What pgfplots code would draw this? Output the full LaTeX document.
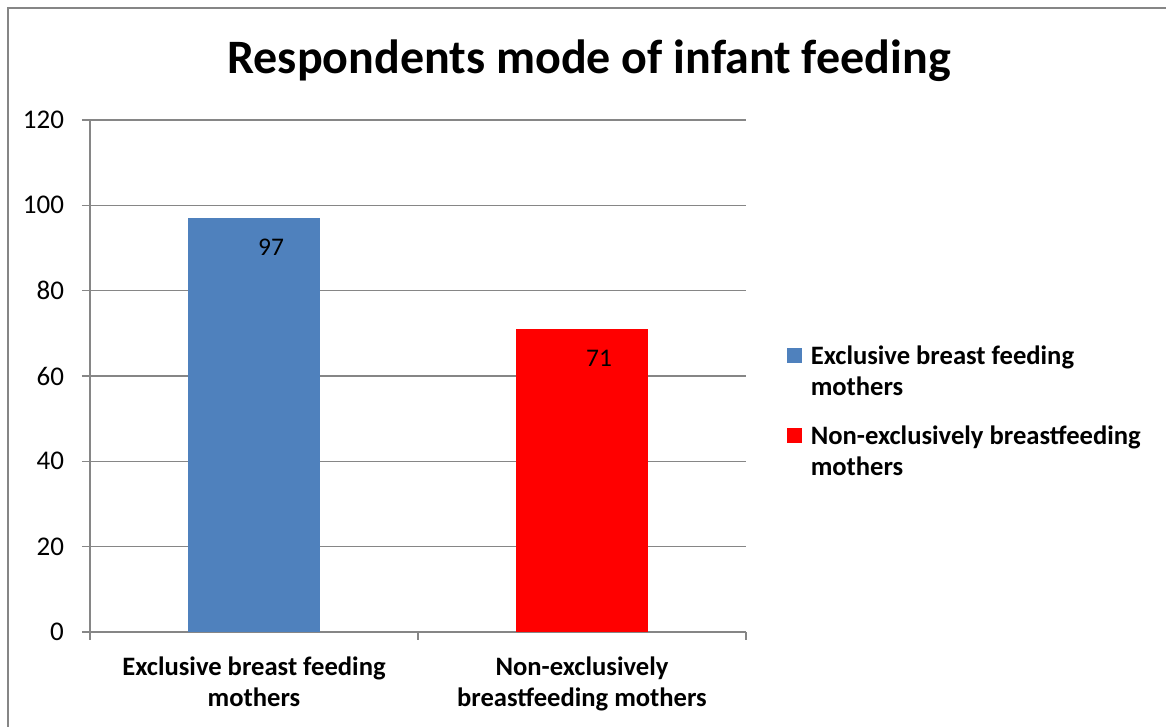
\documentclass[border=0pt]{standalone}
\usepackage{fontspec}
\setmainfont{Carlito}
\usepackage{pgfplots}
\pgfplotsset{compat=1.18}
\definecolor{axisgray}{HTML}{868686}
\definecolor{barblue}{HTML}{4F81BD}
\definecolor{barred}{HTML}{FF0000}
\begin{document}
\begin{tikzpicture}
\useasboundingbox (0,0) rectangle (583pt,363.5pt);
% frame of the chart area
\draw[axisgray, line width=0.8pt] (4pt,0) -- (4pt,359.5pt) -- (583pt,359.5pt);
\node[font=\fontsize{24}{29}\selectfont\bfseries] at (294.5pt,333pt) {Respondents mode of infant feeding};
\begin{axis}[
  at={(45pt,47.5pt)}, anchor=south west,
  scale only axis, width=328pt, height=256pt,
  xmin=-0.5, xmax=1.5, ymin=0, ymax=120,
  ytick={0,20,...,120},
  axis x line*=bottom, axis y line*=left,
  axis line style={draw=axisgray, line width=0.6pt},
  ymajorgrids, grid style={draw=axisgray, line width=0.6pt},
  tick align=outside, major tick length=4pt,
  tick style={draw=axisgray, line width=0.6pt},
  /pgf/number format/assume math mode=true,
  yticklabel style={font=\fontsize{13.5}{16}\selectfont, xshift=-5.5pt},
  yticklabel={\pgfmathprintnumber[assume math mode=true]{\tick}},
  xtick={-0.5,0.5,1.5}, xticklabels={},
  extra x ticks={0,1},
  extra x tick labels={{Exclusive breast feeding\\mothers},{Non-exclusively\\breastfeeding mothers}},
  extra x tick style={major tick length=0pt,
    tick label style={font=\fontsize{13.3}{15.5}\selectfont\bfseries, align=center, yshift=-9pt}},
  ybar, bar width=66pt, bar shift=0pt,
  nodes near coords,
  nodes near coords style={font=\fontsize{12.7}{15}\selectfont, anchor=center, xshift=8.5pt, yshift=-14.5pt},
  legend style={at={(1.0524,0.575)}, anchor=north west, draw=none, fill=none,
    font=\fontsize{13.3}{15.5}\selectfont\bfseries,
    cells={anchor=west, align=left}, row sep=9.5pt},
  % square key level with the first line of each entry, small gap before the text
  legend image code/.code={\fill[#1] (-2.5pt,4.5pt) rectangle (5pt,12pt); \path (7.5pt,8pt);},
]
\addplot[fill=barblue, draw=none] coordinates {(0,97)};
\addlegendentry{Exclusive breast feeding\\mothers}
\addplot[fill=barred, draw=none] coordinates {(1,71)};
\addlegendentry{Non-exclusively breastfeeding\\mothers}
\end{axis}
\end{tikzpicture}
\end{document}
